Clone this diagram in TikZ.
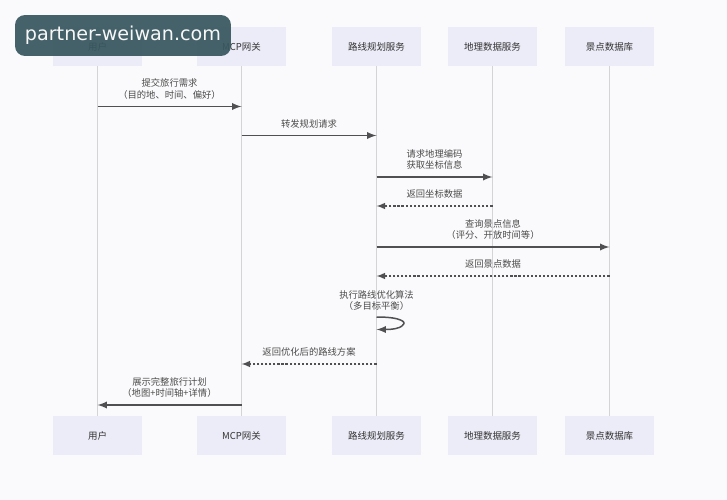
\documentclass[tikz,border=0pt]{standalone}
\usepackage{fontspec}
\setmainfont{Noto Sans CJK SC}
\newfontfamily\markfont{DejaVu Sans}
\definecolor{pagebg}{HTML}{FAFAFC}
\definecolor{boxbg}{HTML}{ECECF8}
\definecolor{lifegray}{HTML}{D4D4D8}
\definecolor{msggray}{HTML}{505053}
\definecolor{marktl}{HTML}{38575F}
\tikzset{
  actor/.style={rectangle,fill=boxbg,minimum width=1.78cm,minimum height=0.78cm,inner sep=0pt,text=black!80,font=\fontsize{5.4}{7}\selectfont},
  lifeline/.style={draw=lifegray,line width=0.7pt},
  msg/.style={draw=msggray,line width=0.85pt,-latex},
  reply/.style={msg,line width=0.7pt,dash pattern=on 1.2pt off 1.1pt},
  lbl/.style={text=black!70,font=\fontsize{5.3}{6.4}\selectfont,align=center,inner sep=3.9pt}
}
\begin{document}
\begin{tikzpicture}[x=0.02cm,y=-0.02cm]
            \useasboundingbox[fill=pagebg] (0,0) rectangle (727,500);
            % boxes top and bottom
            \draw (97.5,46.5)  node[actor] (ua) {用户};
            \draw (241.5,46.5) node[actor] (ma) {MCP网关};
            \draw (376.5,46.5) node[actor] (ra) {路线规划服务};
            \draw (492.5,46.5) node[actor] (ga) {地理数据服务};
            \draw (609.5,46.5) node[actor] (pa) {景点数据库};
            \draw (97.5,435.5)  node[actor] (ub) {用户};
            \draw (241.5,435.5) node[actor] (mb) {MCP网关};
            \draw (376.5,435.5) node[actor] (rb) {路线规划服务};
            \draw (492.5,435.5) node[actor] (gb) {地理数据服务};
            \draw (609.5,435.5) node[actor] (pb) {景点数据库};
            % lifelines
            \draw[lifeline] (ua) -- (ub)
                  (ma) -- (mb)
                  (ra) -- (rb)
                  (ga) -- (gb)
                  (pa) -- (pb);
            \foreach \n/\x/\y in {u1/97.5/106.5, m1/241.5/106.5, m2/241.5/135.5, r2/376.5/135.5,
                  r3/376.5/177, g3/492.5/177, r4/376.5/206, g4/492.5/206,
                  r5/376.5/247, p5/609.5/247, r6/376.5/276, p6/609.5/276,
                  r7/376.5/317, r8/376.5/329.5, l8/404/323,
                  r9/376.5/364, m9/241.5/364, m10/241.5/405, u10/97.5/405}
                  \coordinate (\n) at (\x,\y);
            % messages
            \draw[msg] (u1) -- (m1) node [midway, above, lbl] {提交旅行需求\\（目的地、时间、偏好）};
            \draw[msg] (m2) -- (r2) node [midway, above, lbl] {转发规划请求};
            \draw[msg] (r3) -- (g3) node [midway, above, lbl] {请求地理编码\\获取坐标信息};
            \draw[reply] (g4) -- (r4) node [midway, above, lbl] {返回坐标数据};
            \draw[msg] (r5) -- (p5) node [midway, above, lbl] {查询景点信息\\（评分、开放时间等）};
            \draw[reply] (p6) -- (r6) node [midway, above, lbl] {返回景点数据};
            \draw[msg] (r7) .. controls (r7-|l8) and (l8) .. (l8) .. controls (l8) and (r8-|l8) .. (r8);
            \node[lbl,above] (selflbl) at (376.5,318) {执行路线优化算法\\（多目标平衡）};
            \draw[reply] (r9) -- (m9) node [midway, above, lbl] {返回优化后的路线方案};
            \draw[msg] (m10) -- (u10) node [midway, above, lbl] {展示完整旅行计划\\（地图+时间轴+详情）};
            % watermark
            \node[rectangle,rounded corners=0.2cm,fill=marktl,fill opacity=0.93,text opacity=1,text=black!3,minimum width=4.32cm,minimum height=0.82cm,inner sep=0pt,font=\markfont\fontsize{10.9}{13}\selectfont] (mark) at (123,35.5) {partner-weiwan.com};
\end{tikzpicture}
\end{document}
